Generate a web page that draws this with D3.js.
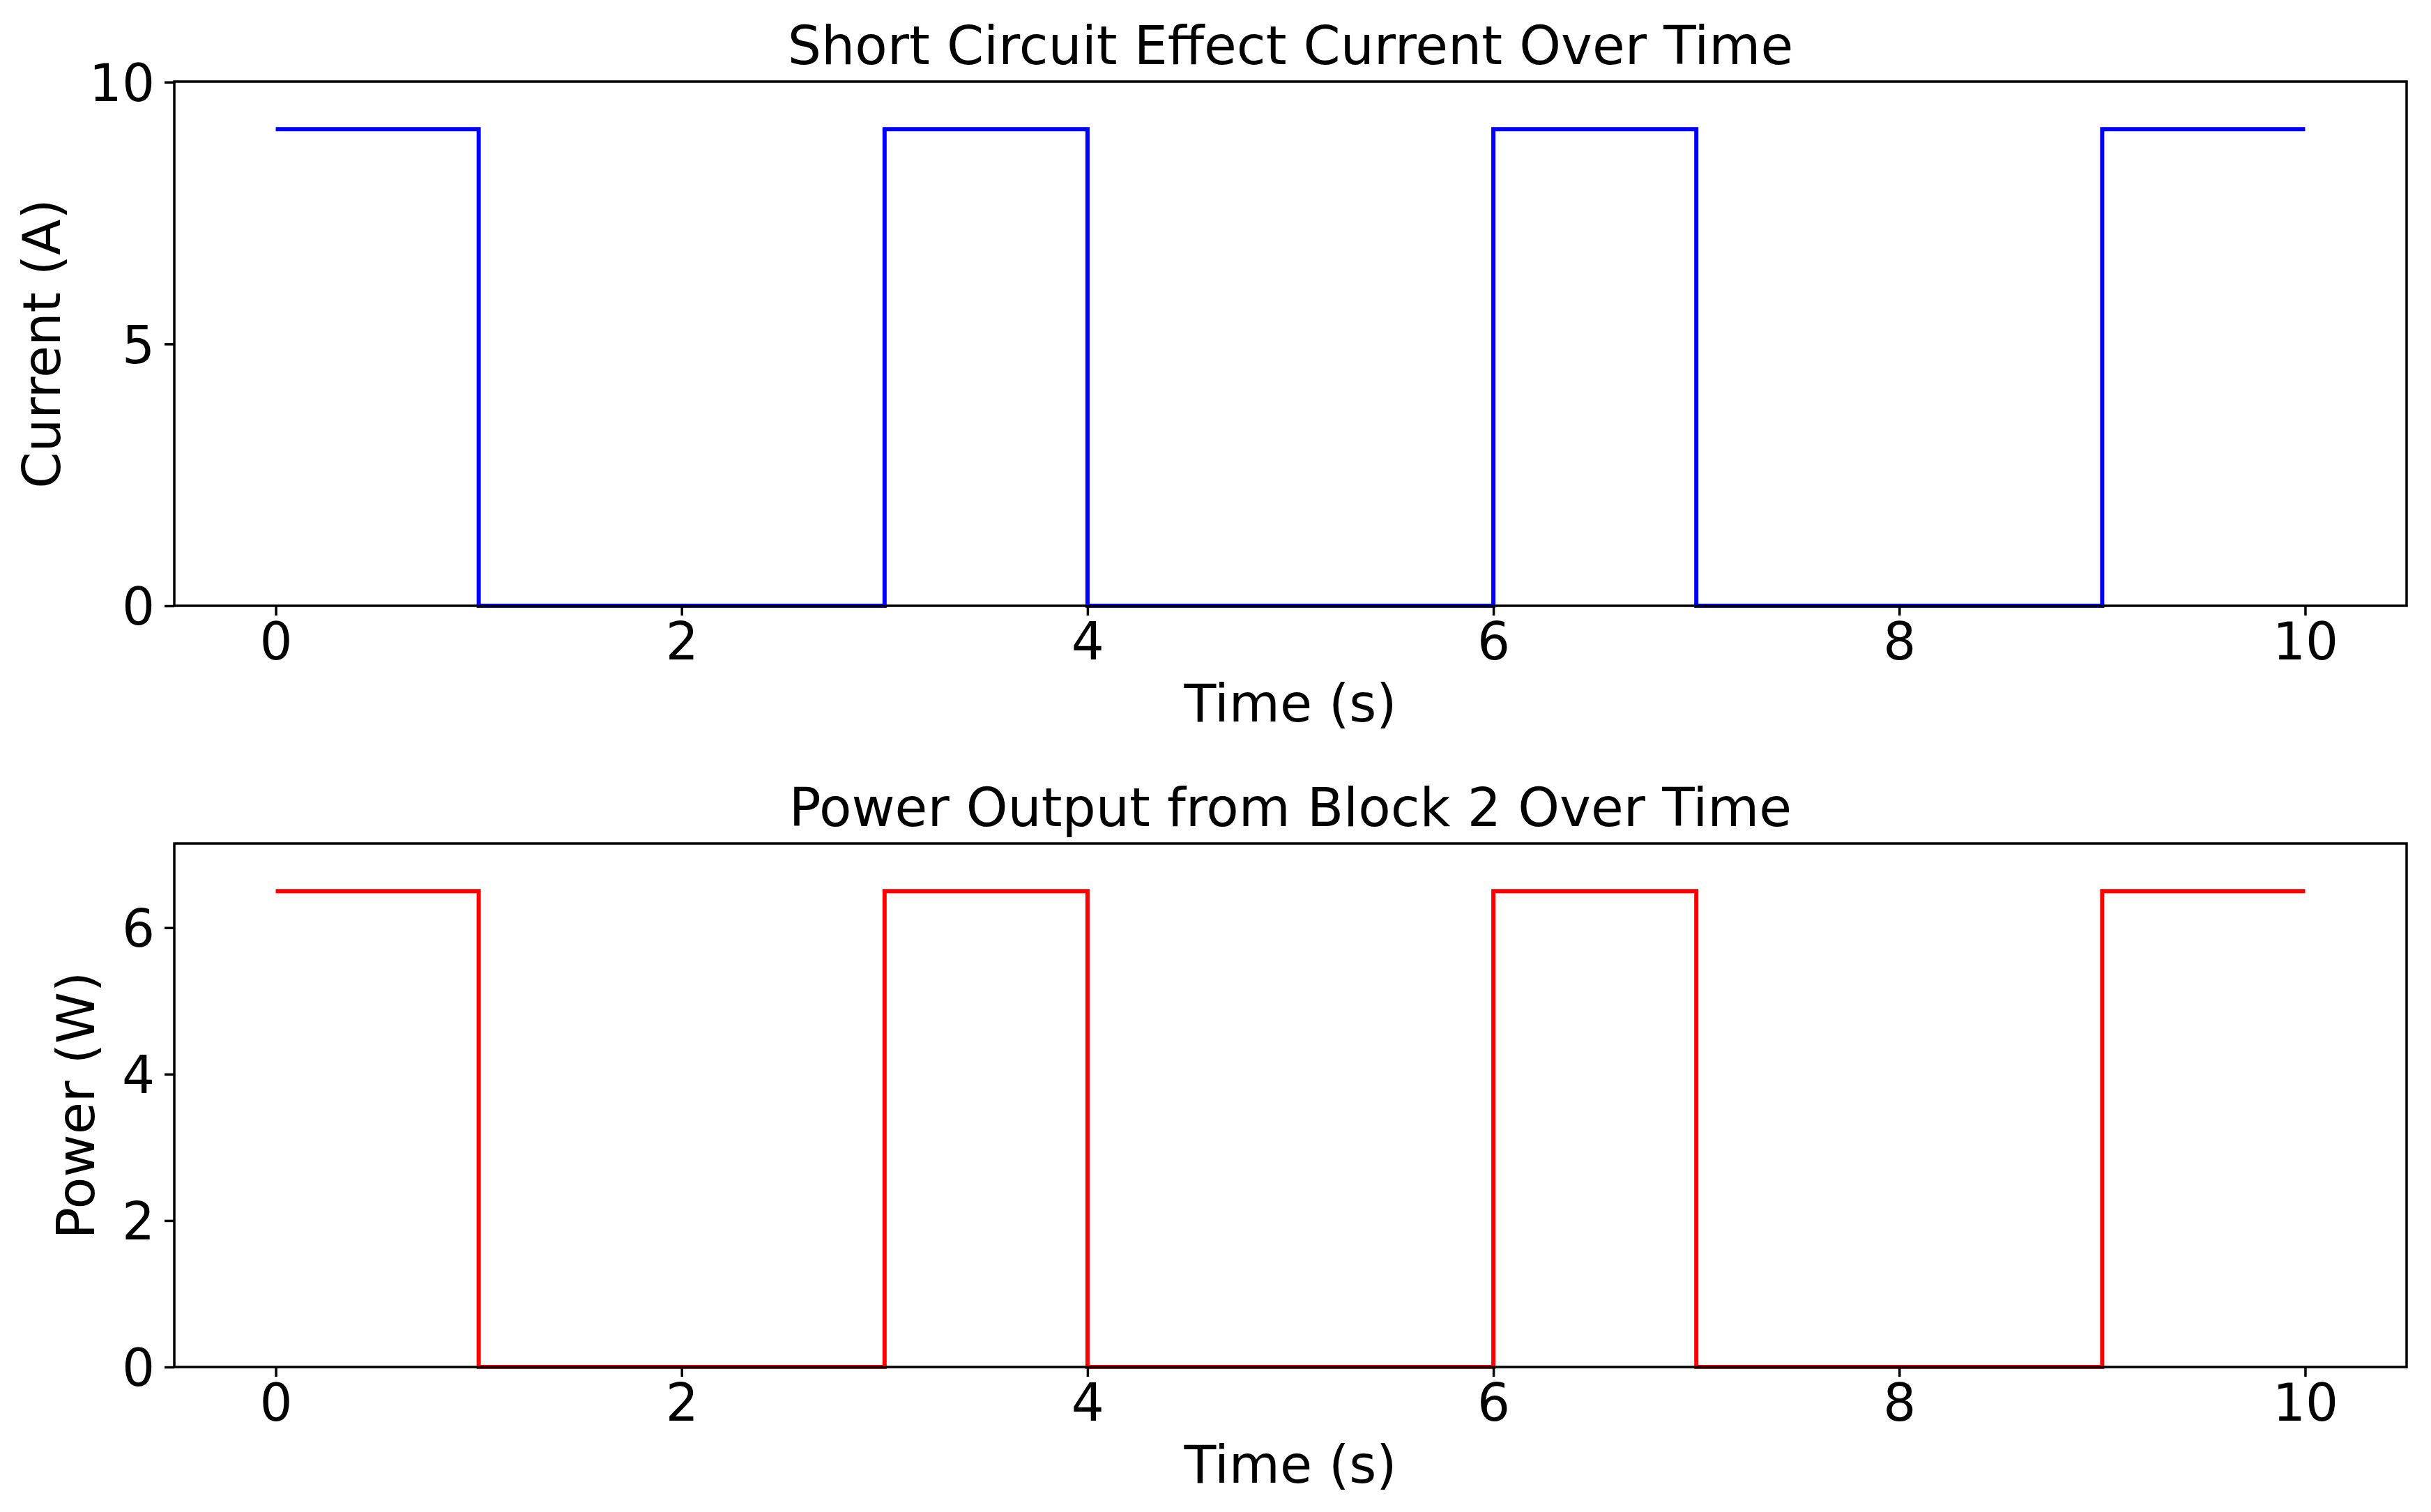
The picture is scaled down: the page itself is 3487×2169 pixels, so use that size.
<!DOCTYPE html>
<html><head><meta charset="utf-8">
<script src="https://cdn.jsdelivr.net/npm/d3@7/dist/d3.min.js"></script>
<style>body{margin:0;background:#fff;overflow:hidden}</style>
</head><body><svg id="chart"></svg>
<script>
// ---- data ----
const timePoints    = [0, 1, 3, 4, 6, 7, 9, 10];
const currentValues = [9.1, 0, 9.1, 0, 9.1, 0, 9.1, 9.1];
const powerValues   = [6.5, 0, 6.5, 0, 6.5, 0, 6.5, 6.5];
const xTickValues   = [0, 2, 4, 6, 8, 10];
const currentTicks  = [0, 5, 10];
const powerTicks    = [0, 2, 4, 6];
const panelTitles   = ["Short Circuit Effect Current Over Time", "Power Output from Block 2 Over Time"];
const yLabels       = ["Current (A)", "Power (W)"];
const xLabel        = "Time (s)";

// ---- layout ----
const W = 3487, H = 2169;
const FONT = "DejaVu Sans";
const svg = d3.select("#chart").attr("width", W).attr("height", H)
  .style("font-family", FONT);
svg.append("rect").attr("width", W).attr("height", H).attr("fill", "#fff");

const left = 250, right = 3452;
const panels = [
  {top: 117, bottom: 869, values: currentValues, ticks: currentTicks, ymax: 9.1 * 1.1,
   color: "#0000ff", title: panelTitles[0], ylabel: yLabels[0], ylabelX: 86},
  {top: 1210, bottom: 1961, values: powerValues, ticks: powerTicks, ymax: 6.5 * 1.1,
   color: "#ff0000", title: panelTitles[1], ylabel: yLabels[1], ylabelX: 135}
];

const x = d3.scaleLinear().domain([-0.5, 10.5]).range([left, right]);

panels.forEach(p => {
  const y = d3.scaleLinear().domain([0, p.ymax]).range([p.bottom, p.top]);
  const g = svg.append("g");

  // line (steps)
  const pts = timePoints.map((t, i) => [t, p.values[i]]);
  const line = d3.line().x(d => x(d[0])).y(d => y(d[1])).curve(d3.curveStepAfter);
  g.append("path").datum(pts).attr("d", line)
    .attr("fill", "none").attr("stroke", p.color).attr("stroke-width", 6)
    .attr("stroke-linejoin", "miter").attr("stroke-linecap", "butt");

  // x axis
  const xa = g.append("g").attr("transform", `translate(0,${p.bottom})`)
    .call(d3.axisBottom(x).tickValues(xTickValues).tickSize(14).tickPadding(10).tickSizeOuter(0)
      .tickFormat(d3.format("d")));
  xa.select(".domain").remove();
  xa.selectAll(".tick line").attr("stroke", "#000").attr("stroke-width", 3.5);
  xa.selectAll(".tick text").attr("fill", "#000").style("font-size", "74px").style("font-family", FONT);

  // y axis
  const ya = g.append("g").attr("transform", `translate(${left},0)`)
    .call(d3.axisLeft(y).tickValues(p.ticks).tickSize(14).tickPadding(14).tickSizeOuter(0)
      .tickFormat(d3.format("d")));
  ya.select(".domain").remove();
  ya.selectAll(".tick line").attr("stroke", "#000").attr("stroke-width", 3.5);
  ya.selectAll(".tick text").attr("fill", "#000").attr("dy", "0.36em")
    .style("font-size", "74px").style("font-family", FONT);

  // frame
  g.append("rect").attr("x", left).attr("y", p.top)
    .attr("width", right - left).attr("height", p.bottom - p.top)
    .attr("fill", "none").attr("stroke", "#000").attr("stroke-width", 3.5);

  // title
  g.append("text").attr("x", (left + right) / 2).attr("y", p.top - 25)
    .attr("text-anchor", "middle").style("font-size", "76px").attr("fill", "#000")
    .text(p.title);

  // x label
  g.append("text").attr("x", (left + right) / 2).attr("y", p.bottom + 166)
    .attr("text-anchor", "middle").style("font-size", "75px").attr("fill", "#000")
    .text(xLabel);

  // y label
  g.append("text")
    .attr("transform", `translate(${p.ylabelX},${(p.top + p.bottom) / 2}) rotate(-90)`)
    .attr("text-anchor", "middle").style("font-size", "75px").attr("fill", "#000")
    .text(p.ylabel);
});
</script>
</body></html>
